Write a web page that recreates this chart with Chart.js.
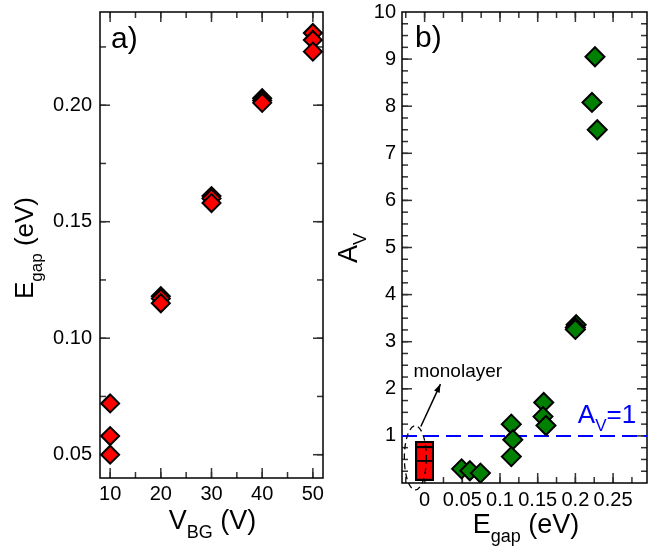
<!DOCTYPE html>
<html>
<head>
<meta charset="utf-8">
<script src="https://cdn.jsdelivr.net/npm/chart.js@4.4.0/dist/chart.umd.min.js"></script>
<style>
html, body { margin: 0; padding: 0; background: #fff; }
#wrap { position: relative; width: 648px; height: 546px; }
#chartA { position: absolute; left: 0; top: 0; }
#chartB { position: absolute; left: 330px; top: 0; }
</style>
</head>
<body>
<div id="wrap">
  <canvas id="chartA" width="330" height="546"></canvas>
  <canvas id="chartB" width="318" height="546"></canvas>
</div>
<script>
// panel a) : gap vs back gate voltage
const vbgA = [10, 10, 10, 20, 20, 20, 30, 30, 30, 40, 40, 40, 50, 50, 50]
const egapA = [0.072, 0.058, 0.050, 0.118, 0.117, 0.115, 0.161, 0.160, 0.158, 0.203, 0.202, 0.201, 0.231, 0.228, 0.223]
const xTicksA = [10, 20, 30, 40, 50]
const yTicksA = [0.05, 0.10, 0.15, 0.20]

// panel b) : A_V vs gap
const egapB = [0.049, 0.060, 0.074, 0.115, 0.117, 0.115, 0.158, 0.157, 0.161, 0.201, 0.200, 0.200, 0.226, 0.222, 0.229]
const avB = [0.30, 0.26, 0.21, 1.25, 0.92, 0.56, 1.71, 1.41, 1.22, 3.36, 3.30, 3.26, 9.05, 8.08, 7.50]
const monoEgap = [0, 0, 0]
const monoAv = [0.67, 0.56, 0.27]
const refX = [-0.03, 0.295]
const refY = [1, 1]
const xTicksB = [0, 0.05, 0.10, 0.15, 0.20, 0.25]
const xLabelsB = ['0', '0.05', '0.1', '0.15', '0.2', '0.25']
const yTicksB = [1, 2, 3, 4, 5, 6, 7, 8, 9, 10]

const FONT = '"Liberation Sans", Arial, Helvetica, sans-serif'

const toPts = (xs, ys) => xs.map((v, i) => ({ x: v, y: ys[i] }))

// text with subscripts, parts = [[text, isSub], ...], (x, y) = centre of baseline
function drawRich(ctx, parts, x, y, size, angle, color) {
    const subSize = Math.round(size * 0.66)
    ctx.save()
    ctx.translate(x, y)
    ctx.rotate(angle)
    ctx.fillStyle = color
    ctx.textBaseline = 'alphabetic'
    ctx.textAlign = 'left'
    let total = 0
    const widths = parts.map(p => {
        ctx.font = (p[1] ? subSize : size) + 'px ' + FONT
        const w = ctx.measureText(p[0]).width
        total += w
        return w
    })
    let cx = -total / 2
    parts.forEach((p, i) => {
        ctx.font = (p[1] ? subSize : size) + 'px ' + FONT
        ctx.fillText(p[0], cx, p[1] ? size * 0.33 : 0)
        cx += widths[i]
    })
    ctx.restore()
}

// frame + inward ticks on all four sides
const frameTicks = {
    id: 'frameTicks',
    beforeDatasetsDraw(chart, args, opts) {
        const { ctx, chartArea: a } = chart
        const x = chart.scales.x
        const y = chart.scales.y
        const line = (x1, y1, x2, y2) => { ctx.beginPath(); ctx.moveTo(x1, y1); ctx.lineTo(x2, y2); ctx.stroke() }
        const steps = (min, max, step) => {
            const out = []
            for (let k = Math.ceil(min / step - 1e-9); k * step <= max + 1e-9; k++) out.push(k * step)
            return out
        }
        ctx.save()
        ctx.strokeStyle = '#333'
        ctx.lineWidth = 1.5
        const doX = (vals, len) => vals.forEach(v => {
            const p = x.getPixelForValue(v)
            if (p <= a.left + 1 || p >= a.right - 1) return
            line(p, a.bottom, p, a.bottom - len)
            line(p, a.top, p, a.top + len)
        })
        const doY = (vals, len) => vals.forEach(v => {
            const p = y.getPixelForValue(v)
            if (p <= a.top + 1 || p >= a.bottom - 1) return
            line(a.left, p, a.left + len, p)
            line(a.right, p, a.right - len, p)
        })
        doX(steps(x.min, x.max, opts.xStep), 10)
        doX(steps(x.min, x.max, opts.xMinor), 6)
        doY(steps(y.min, y.max, opts.yStep), 10)
        doY(steps(y.min, y.max, opts.yMinor), 6)
        ctx.strokeStyle = '#000'
        ctx.lineWidth = 1.5
        ctx.strokeRect(a.left, a.top, a.right - a.left, a.bottom - a.top)
        ctx.restore()
    }
}

const tickFont = { family: FONT, size: 20 }

function axes(xMin, xMax, yMin, yMax, xTicks, yTicks, xCb, yCb, yWidth, xHeight, xPad, yPad) {
    return {
        x: {
            type: 'linear', min: xMin, max: xMax,
            afterBuildTicks: s => { s.ticks = xTicks.map(v => ({ value: v })) },
            afterFit: s => { s.height = xHeight; s.paddingLeft = 0; s.paddingRight = 0 },
            grid: { display: false, drawTicks: false },
            border: { display: false },
            ticks: { font: tickFont, color: '#000', padding: xPad, autoSkip: false, maxRotation: 0, minRotation: 0, callback: xCb }
        },
        y: {
            type: 'linear', min: yMin, max: yMax,
            afterBuildTicks: s => { s.ticks = yTicks.map(v => ({ value: v })) },
            afterFit: s => { s.width = yWidth; s.paddingTop = 0; s.paddingBottom = 0 },
            grid: { display: false, drawTicks: false },
            border: { display: false },
            ticks: { font: tickFont, color: '#000', padding: yPad, autoSkip: false, callback: yCb }
        }
    }
}

//--------------------------------------------------------------------------

const notesA = {
    id: 'notesA',
    afterDatasetsDraw(chart) {
        const { ctx, chartArea: a } = chart
        ctx.save()
        ctx.fillStyle = '#000'
        ctx.font = '30px ' + FONT
        ctx.textAlign = 'left'
        ctx.textBaseline = 'alphabetic'
        ctx.fillText('a)', a.left + 11, a.top + 36)
        ctx.restore()
        drawRich(ctx, [['V', false], ['BG', true], [' (V)', false]], (a.left + a.right) / 2 + 1, 529, 27, 0, '#000')
        drawRich(ctx, [['E', false], ['gap', true], [' (eV)', false]], 33, 248, 26, -Math.PI / 2, '#000')
    }
}

const chartA = new Chart(document.querySelector('#chartA').getContext('2d'), {
    type: 'scatter',
    data: {
        datasets: [{
            data: toPts(vbgA, egapA),
            pointStyle: 'rectRot',
            pointRadius: 9,
            backgroundColor: '#ff0000',
            borderColor: '#000',
            borderWidth: 2
        }]
    },
    options: {
        responsive: false,
        animation: false,
        layout: { autoPadding: false, padding: { top: 12, right: 7, left: 0, bottom: 0 } },
        scales: axes(8, 52, 0.04, 0.24, xTicksA, yTicksA, v => String(v), v => v.toFixed(2), 100, 68, 4, 8),
        plugins: {
            legend: { display: false },
            tooltip: { enabled: false },
            frameTicks: { xStep: 10, xMinor: 5, yStep: 0.05, yMinor: 0.025 }
        }
    },
    plugins: [frameTicks, notesA]
})

//--------------------------------------------------------------------------

// tall red boxes for the monolayer points
const monoBox = document.createElement('canvas')
monoBox.width = 19
monoBox.height = 21
{
    const c = monoBox.getContext('2d')
    c.fillStyle = '#ff0000'
    c.fillRect(1, 1, 17, 19)
    c.strokeStyle = '#000'
    c.lineWidth = 2
    c.strokeRect(1, 1, 17, 19)
}

const notesB = {
    id: 'notesB',
    afterDatasetsDraw(chart) {
        const { ctx, chartArea: a } = chart
        const x = chart.scales.x
        const y = chart.scales.y
        ctx.save()
        ctx.fillStyle = '#000'
        ctx.textAlign = 'left'
        ctx.textBaseline = 'alphabetic'
        ctx.font = '30px ' + FONT
        ctx.fillText('b)', a.left + 13, a.top + 35)

        // dashed ellipse round the monolayer boxes
        ctx.strokeStyle = '#000'
        ctx.lineWidth = 1.3
        ctx.setLineDash([6, 4])
        ctx.beginPath()
        ctx.ellipse(x.getPixelForValue(-0.0123), y.getPixelForValue(0.535), 11, 32, 0, 0, Math.PI * 2)
        ctx.stroke()
        ctx.setLineDash([])

        // arrow to the label
        const x1 = x.getPixelForValue(-0.005), y1 = y.getPixelForValue(1.2)
        const x2 = x.getPixelForValue(0.021), y2 = y.getPixelForValue(2.1)
        ctx.lineWidth = 1.5
        ctx.beginPath(); ctx.moveTo(x1, y1); ctx.lineTo(x2, y2); ctx.stroke()
        const ang = Math.atan2(y2 - y1, x2 - x1)
        ctx.beginPath()
        ctx.moveTo(x2, y2)
        ctx.lineTo(x2 - 9 * Math.cos(ang - 0.35), y2 - 9 * Math.sin(ang - 0.35))
        ctx.lineTo(x2 - 9 * Math.cos(ang + 0.35), y2 - 9 * Math.sin(ang + 0.35))
        ctx.closePath()
        ctx.fill()

        ctx.font = '19px ' + FONT
        ctx.fillText('monolayer', x.getPixelForValue(-0.0149), y.getPixelForValue(2.25))
        ctx.restore()

        // A_V = 1 label
        ctx.save()
        ctx.fillStyle = '#0000ff'
        ctx.textAlign = 'left'
        ctx.textBaseline = 'alphabetic'
        let px = x.getPixelForValue(0.2033)
        const py = y.getPixelForValue(1.27)
        ctx.font = '26px ' + FONT
        ctx.fillText('A', px, py)
        px += ctx.measureText('A').width
        ctx.font = '17px ' + FONT
        ctx.fillText('V', px, py + 8)
        px += ctx.measureText('V').width
        ctx.font = '26px ' + FONT
        ctx.fillText('=1', px, py)
        ctx.restore()

        drawRich(ctx, [['E', false], ['gap', true], [' (eV)', false]], 196, 533, 27, 0, '#000')
        drawRich(ctx, [['A', false], ['V', true]], 27, 248, 27, -Math.PI / 2, '#000')
    }
}

const chartB = new Chart(document.querySelector('#chartB').getContext('2d'), {
    type: 'scatter',
    data: {
        datasets: [
            {
                data: toPts(monoEgap, monoAv),
                pointStyle: monoBox,
                pointRadius: 10
            },
            {
                data: toPts(egapB, avB),
                pointStyle: 'rectRot',
                pointRadius: 9.5,
                backgroundColor: '#008000',
                borderColor: '#000',
                borderWidth: 2
            },
            {
                type: 'line',
                data: toPts(refX, refY),
                borderColor: '#0000ff',
                borderWidth: 2,
                borderDash: [15, 7],
                pointRadius: 0,
                fill: false
            }
        ]
    },
    options: {
        responsive: false,
        animation: false,
        layout: { autoPadding: false, padding: { top: 12, right: 1, left: 0, bottom: 0 } },
        scales: axes(-0.03, 0.295, 0, 10, xTicksB, yTicksB,
            v => xLabelsB[xTicksB.findIndex(t => Math.abs(t - v) < 1e-9)], v => String(v), 72, 63, 5, 6),
        plugins: {
            legend: { display: false },
            tooltip: { enabled: false },
            frameTicks: { xStep: 0.05, xMinor: 0.025, yStep: 1, yMinor: 0.25 }
        }
    },
    plugins: [frameTicks, notesB]
})
</script>
</body>
</html>
